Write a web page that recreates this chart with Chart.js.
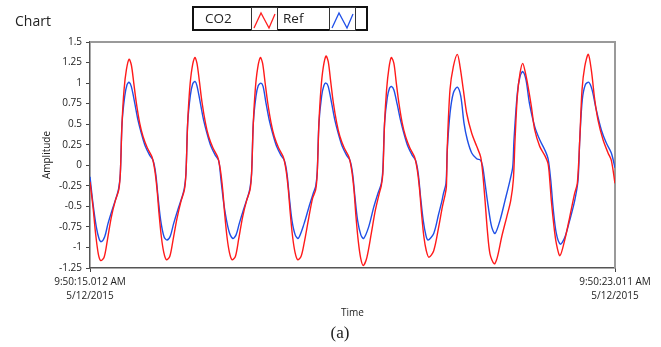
<!DOCTYPE html>
<html><head><meta charset="utf-8">
<script src="https://cdn.jsdelivr.net/npm/chart.js@4/dist/chart.umd.min.js"></script>
<style>
html,body{margin:0;padding:0;background:#fff;}
#wrap{position:relative;width:661px;height:347px;overflow:hidden;font-family:"Open Sans",sans-serif;color:#222;}
#c{position:absolute;left:0;top:0;}
.ttl{position:absolute;left:15px;top:12px;font-size:14px;line-height:18px;}
.legend{position:absolute;left:192px;top:6px;width:172px;height:21px;border:2px solid #111;}
.legend .txt{position:absolute;top:0;height:21px;line-height:21px;font-size:13.5px;}
.legend .ico{position:absolute;top:-1px;width:25px;height:22px;border:1px solid #333;background:#fff;}
.cap{position:absolute;left:290px;width:100px;text-align:center;top:323px;font-family:"Liberation Serif",serif;font-size:17px;line-height:20px;}
</style></head>
<body>
<div id="wrap">
<canvas id="c" width="661" height="347"></canvas>
<div class="ttl">Chart</div>
<div class="legend">
  <span class="txt" style="left:11px">CO2</span>
  <span class="ico" style="left:57px"><svg width="25" height="22"><polyline points="2,20 9,5 17,20 23,6" fill="none" stroke="#ff2020" stroke-width="1.3"/></svg></span>
  <span class="txt" style="left:89px">Ref</span>
  <span class="ico" style="left:135px"><svg width="25" height="22"><polyline points="2,20 9,5 17,20 23,6" fill="none" stroke="#2050e8" stroke-width="1.3"/></svg></span>
</div>
<div class="cap">(a)</div>
</div>
<script>
// ---- data (time in seconds from 9:50:15.012 AM) ----
const seriesNames = ["CO2", "Ref"];
const xTickValues = [0, 7.999];
const xTickLabels = [["9:50:15.012 AM", "5/12/2015"], ["9:50:23.011 AM", "5/12/2015"]];
const yTickStep = 0.25;

const co2Times = [
 0,0.046,0.085,0.127,0.164,0.215,0.265,0.325,0.386,0.438,0.462,0.488,0.519,0.554,0.595,0.630,0.667,0.706,0.758,0.808,0.874,0.945,0.987,
 1.022,1.052,1.087,1.124,1.164,1.215,1.265,1.325,1.386,1.438,1.462,1.488,1.519,1.554,1.598,1.630,1.667,1.706,1.758,1.808,1.874,1.945,1.987,
 2.022,2.052,2.087,2.124,2.164,2.215,2.265,2.325,2.386,2.438,2.462,2.488,2.519,2.554,2.596,2.630,2.667,2.706,2.758,2.808,2.874,2.945,2.987,
 3.022,3.052,3.087,3.124,3.164,3.215,3.262,3.335,3.392,3.438,3.462,3.488,3.519,3.554,3.596,3.630,3.667,3.706,3.758,3.808,3.874,3.945,3.987,
 4.022,4.052,4.087,4.124,4.164,4.219,4.286,4.347,4.408,4.438,4.462,4.488,4.519,4.554,4.591,4.630,4.667,4.706,4.758,4.808,4.874,4.945,4.987,
 5.022,5.052,5.087,5.124,5.164,5.237,5.313,5.370,5.410,5.430,5.444,5.485,5.536,5.597,5.638,5.688,5.740,5.816,5.892,5.953,5.984,
 6.019,6.054,6.095,6.160,6.206,6.273,6.349,6.410,6.450,6.476,6.511,6.552,6.593,6.635,6.674,6.724,6.776,6.852,6.928,6.979,7.005,
 7.029,7.070,7.105,7.160,7.233,7.309,7.385,7.425,7.462,7.497,7.538,7.592,7.638,7.690,7.740,7.817,7.893,7.943,7.999
];
const co2Values = [
 -0.20,-0.51,-0.83,-1.08,-1.16,-1.12,-0.91,-0.63,-0.43,-0.30,-0.10,0.51,0.92,1.16,1.29,1.22,1.00,0.76,0.51,0.35,0.21,0.10,-0.06,
 -0.30,-0.59,-0.87,-1.06,-1.15,-1.11,-0.91,-0.65,-0.44,-0.30,-0.10,0.51,0.93,1.18,1.31,1.24,1.02,0.77,0.52,0.35,0.21,0.10,-0.06,
 -0.30,-0.59,-0.87,-1.06,-1.15,-1.11,-0.90,-0.63,-0.43,-0.30,-0.10,0.51,0.93,1.18,1.31,1.24,1.01,0.77,0.52,0.35,0.21,0.10,-0.06,
 -0.30,-0.59,-0.87,-1.06,-1.15,-1.11,-0.95,-0.63,-0.40,-0.30,-0.10,0.51,0.93,1.19,1.33,1.26,1.02,0.77,0.52,0.35,0.21,0.10,-0.06,
 -0.30,-0.62,-0.92,-1.13,-1.22,-1.12,-0.83,-0.55,-0.34,-0.25,-0.10,0.51,0.92,1.18,1.31,1.24,1.00,0.76,0.51,0.35,0.21,0.10,-0.06,
 -0.30,-0.59,-0.87,-1.04,-1.12,-1.04,-0.75,-0.50,-0.36,-0.26,0.23,0.92,1.20,1.35,1.20,0.92,0.63,0.39,0.23,0.10,-0.10,
 -0.43,-0.79,-1.08,-1.20,-1.12,-0.87,-0.63,-0.43,-0.18,0.31,0.84,1.12,1.24,1.12,0.96,0.72,0.43,0.23,0.12,0.02,-0.18,
 -0.43,-0.75,-0.95,-1.10,-0.91,-0.63,-0.34,-0.22,0.31,0.92,1.20,1.35,1.16,0.80,0.55,0.31,0.15,0.06,-0.22
];

const refTimes = [
 0,0.046,0.096,0.137,0.172,0.224,0.274,0.335,0.401,0.437,0.462,0.488,0.529,0.564,0.594,0.629,0.681,0.731,0.782,0.843,0.910,0.960,
 1.001,1.036,1.077,1.128,1.173,1.224,1.274,1.335,1.401,1.437,1.462,1.488,1.529,1.564,1.600,1.629,1.681,1.731,1.782,1.843,1.910,1.960,
 1.996,2.046,2.113,2.174,2.224,2.274,2.335,2.401,2.437,2.462,2.488,2.529,2.564,2.604,2.637,2.681,2.731,2.782,2.843,2.910,2.960,
 3.001,3.036,3.077,3.128,3.174,3.262,3.335,3.411,3.440,3.462,3.488,3.529,3.564,3.596,3.629,3.681,3.731,3.782,3.843,3.910,3.960,
 4.001,4.036,4.077,4.128,4.170,4.246,4.323,4.388,4.439,4.462,4.488,4.529,4.564,4.591,4.629,4.681,4.731,4.782,4.843,4.910,4.960,
 5.001,5.036,5.077,5.120,5.150,5.237,5.313,5.363,5.383,5.424,5.444,5.485,5.536,5.597,5.649,5.699,5.749,5.816,5.892,5.953,5.984,
 6.019,6.069,6.120,6.171,6.247,6.323,6.400,6.441,6.460,6.511,6.552,6.593,6.643,6.694,6.776,6.852,6.928,6.979,
 7.020,7.055,7.105,7.166,7.233,7.309,7.385,7.436,7.462,7.501,7.547,7.599,7.649,7.715,7.791,7.867,7.943,7.999
];
const refValues = [
 -0.14,-0.47,-0.75,-0.89,-0.93,-0.87,-0.71,-0.55,-0.39,-0.28,-0.10,0.51,0.84,0.98,1.01,0.96,0.76,0.55,0.39,0.23,0.12,0.06,
 -0.10,-0.38,-0.67,-0.87,-0.91,-0.86,-0.71,-0.55,-0.39,-0.28,-0.10,0.51,0.85,0.99,1.02,0.97,0.76,0.55,0.39,0.23,0.12,0.06,
 -0.18,-0.51,-0.79,-0.89,-0.85,-0.71,-0.55,-0.39,-0.28,-0.10,0.51,0.84,0.97,1.00,0.96,0.76,0.55,0.39,0.23,0.12,0.06,
 -0.10,-0.38,-0.67,-0.85,-0.89,-0.71,-0.51,-0.32,-0.25,-0.08,0.51,0.84,0.97,1.00,0.96,0.76,0.55,0.39,0.23,0.12,0.06,
 -0.10,-0.38,-0.67,-0.85,-0.89,-0.75,-0.51,-0.34,-0.22,-0.05,0.51,0.82,0.94,0.96,0.92,0.74,0.55,0.39,0.23,0.12,0.06,
 -0.10,-0.38,-0.67,-0.86,-0.91,-0.83,-0.59,-0.43,-0.35,-0.22,0.19,0.63,0.88,0.95,0.84,0.51,0.31,0.15,0.08,0.06,-0.02,
 -0.22,-0.51,-0.75,-0.83,-0.67,-0.43,-0.18,-0.02,0.31,0.88,1.08,1.14,1.04,0.76,0.47,0.31,0.19,0.08,
 -0.18,-0.51,-0.83,-0.96,-0.88,-0.67,-0.43,-0.18,0.31,0.80,0.98,1.01,0.92,0.67,0.43,0.27,0.15,-0.03
];

const toPoints = (ts, vs) => ts.map((t, i) => ({x: t, y: vs[i]}));

const framePlugin = {
  id: 'frame',
  beforeDatasetsDraw(chart) {
    const {ctx, chartArea: a} = chart;
    ctx.save();
    ctx.strokeStyle = '#9a9a9a';
    ctx.lineWidth = 2;
    ctx.beginPath();
    ctx.moveTo(a.left, a.top); ctx.lineTo(a.right, a.top); ctx.lineTo(a.right, a.bottom);
    ctx.stroke();
    ctx.restore();
  }
};

const tickFont = {family: "'Open Sans', sans-serif", size: 10};
new Chart(document.getElementById('c'), {
  type: 'line',
  data: {
    datasets: [
      {label: seriesNames[0], data: toPoints(co2Times, co2Values), borderColor: '#ff1a1a', borderWidth: 1.4, pointRadius: 0, tension: 0.3, fill: false},
      {label: seriesNames[1], data: toPoints(refTimes, refValues), borderColor: '#1f4fe6', borderWidth: 1.4, pointRadius: 0, tension: 0.3, fill: false}
    ]
  },
  options: {
    responsive: false,
    animation: false,
    events: [],
    layout: {padding: {left: 0, top: 42, right: 46, bottom: 0}},
    plugins: {legend: {display: false}, tooltip: {enabled: false}},
    scales: {
      x: {
        type: 'linear', min: xTickValues[0], max: xTickValues[1],
        afterFit(s) { s.height = 79; },
        afterBuildTicks(s) { s.ticks = xTickValues.map(v => ({value: v})); },
        grid: {drawOnChartArea: false, drawTicks: true, tickLength: 4, color: '#444'},
        border: {display: true, color: '#555', width: 1.5},
        ticks: {autoSkip: false, maxRotation: 0, padding: 3, color: '#222',
          font: {family: "'Open Sans', sans-serif", size: 10, lineHeight: 1.4},
          callback: (v, i) => xTickLabels[i]},
        title: {display: true, text: 'Time', color: '#222', font: {family: "'Open Sans', sans-serif", size: 10}, padding: {top: 0, bottom: 28}}
      },
      y: {
        type: 'linear', min: -1.25, max: 1.5,
        afterFit(s) { s.width = 90; },
        grid: {drawOnChartArea: false, drawTicks: true, tickLength: 4, color: '#444'},
        border: {display: true, color: '#555', width: 1.5},
        ticks: {stepSize: yTickStep, padding: 4, color: '#222', font: tickFont,
          callback: v => String(Math.round(v * 100) / 100)},
        title: {display: true, text: 'Amplitude', color: '#222', font: {family: "'Open Sans', sans-serif", size: 10}, padding: {top: 41, bottom: 0}}
      }
    }
  },
  plugins: [framePlugin]
});
</script>
</body></html>
